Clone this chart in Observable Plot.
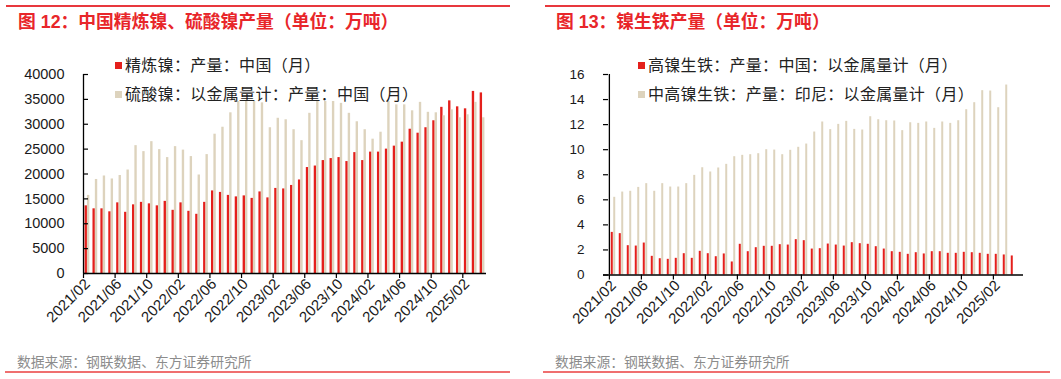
<!DOCTYPE html>
<html><head><meta charset="utf-8">
<script src="https://cdn.jsdelivr.net/npm/d3@7"></script>
<script src="https://cdn.jsdelivr.net/npm/@observablehq/plot@0.6"></script>
<style>
body{margin:0;background:#fff;width:1061px;height:379px;overflow:hidden;position:relative;font-family:"Liberation Sans",Arial,"Noto Sans CJK SC",sans-serif;}
.panel{position:absolute;top:0;}
.rline{position:absolute;height:1.5px;background:#e8383d;}
.bline{position:absolute;height:2px;background:#ef6f6f;}
.title{position:absolute;top:9px;line-height:22px;color:#e8262a;font-weight:bold;font-size:17.8px;font-family:"Noto Sans CJK SC",sans-serif;white-space:nowrap;}
.title .n{font-family:"Liberation Sans",Arial,sans-serif;}
.src{position:absolute;top:353px;line-height:16px;color:#8c8c8c;font-size:13.8px;font-family:"Noto Sans CJK SC",sans-serif;white-space:nowrap;}
.legend{position:absolute;top:50px;height:51px;background:#fff;font-size:16px;color:#222;font-family:"Noto Sans CJK SC",sans-serif;padding:0 6px 0 5px;z-index:2;letter-spacing:0.3px;}
.legend div{white-space:nowrap;height:29px;line-height:29px;}
.sw{display:inline-block;width:7px;height:7px;margin-right:3px;vertical-align:middle;position:relative;top:-1px;}
</style></head><body>
<div class="rline" style="left:6px;width:504px;top:5px"></div>
<div class="rline" style="left:545px;width:505px;top:5px"></div>
<div class="title" style="left:18px">图<span class="n"> 12</span>：中国精炼镍、硫酸镍产量（单位：万吨）</div>
<div class="title" style="left:556px">图<span class="n"> 13</span>：镍生铁产量（单位：万吨）</div>
<div id="c1" class="panel" style="left:0"></div>
<div id="c2" class="panel" style="left:530px"></div>
<div class="legend" style="left:110px">
  <div><span class="sw" style="background:#e4201c"></span>精炼镍：产量：中国（月）</div>
  <div><span class="sw" style="background:#ddd3bd"></span>硫酸镍：以金属量计：产量：中国（月）</div>
</div>
<div class="legend" style="left:633px">
  <div><span class="sw" style="background:#e4201c"></span>高镍生铁：产量：中国：以金属量计（月）</div>
  <div><span class="sw" style="background:#ddd3bd"></span>中高镍生铁：产量：印尼：以金属量计（月）</div>
</div>
<div class="src" style="left:17px">数据来源：钢联数据、东方证券研究所</div>
<div class="src" style="left:555px">数据来源：钢联数据、东方证券研究所</div>
<div class="bline" style="left:5px;width:505px;top:371px"></div>
<div class="bline" style="left:543px;width:507px;top:371px"></div>
<script>
const months = ["2021/02","2021/03","2021/04","2021/05","2021/06","2021/07","2021/08","2021/09","2021/10","2021/11","2021/12",
"2022/01","2022/02","2022/03","2022/04","2022/05","2022/06","2022/07","2022/08","2022/09","2022/10","2022/11","2022/12",
"2023/01","2023/02","2023/03","2023/04","2023/05","2023/06","2023/07","2023/08","2023/09","2023/10","2023/11","2023/12",
"2024/01","2024/02","2024/03","2024/04","2024/05","2024/06","2024/07","2024/08","2024/09","2024/10","2024/11","2024/12",
"2025/01","2025/02","2025/03","2025/04"];
const tickMonths = ["2021/02","2021/06","2021/10","2022/02","2022/06","2022/10","2023/02","2023/06","2023/10","2024/02","2024/06","2024/10","2025/02"];

// 图12
const refinedNickel = [13600,13000,13000,12400,14200,12300,13800,14300,14000,13600,14500,12700,14200,12500,11900,14300,16600,16300,15700,15400,15600,15100,16400,15200,17100,17000,17700,18800,21300,21600,22700,23100,23300,22500,24300,22700,24400,24400,25000,25600,26400,29000,28200,29300,30700,33400,34700,33500,33100,36600,36300];
const nickelSulfate = [15700,18900,19600,19000,19700,20800,25700,24500,26500,24900,23300,25500,24800,23500,19800,23900,28000,29400,32300,34900,36500,36500,34300,29300,31200,30900,28900,26700,32200,36300,36300,35600,34200,32200,30500,28900,27000,28400,36500,33900,33900,32700,34400,32400,32300,31700,32900,31300,31900,34400,31300];
const yTicks1 = [0,5000,10000,15000,20000,25000,30000,35000,40000];

// 图13
const npiChina = [3.40,3.30,2.34,2.31,2.55,1.49,1.30,1.25,1.33,1.70,1.33,1.89,1.70,1.46,1.68,1.04,2.45,1.86,2.18,2.29,2.29,2.42,2.39,2.82,2.74,2.07,2.10,2.47,2.39,2.31,2.58,2.50,2.45,2.26,2.07,1.86,1.81,1.65,1.78,1.68,1.86,1.86,1.73,1.73,1.81,1.78,1.73,1.65,1.65,1.60,1.52];
const npiIndonesia = [6.20,6.62,6.68,6.99,7.29,6.68,7.29,7.02,7.02,7.29,7.95,8.56,8.22,8.54,8.83,9.44,9.55,9.60,9.68,10.00,9.97,9.60,9.95,10.19,10.45,11.41,12.21,11.60,12.02,12.26,11.62,11.57,12.63,12.39,12.31,12.29,11.52,12.15,12.10,12.21,11.70,12.21,12.10,12.31,13.19,13.75,14.71,14.68,13.35,15.16,null];
const yTicks2 = [0,2,4,6,8,10,12,14,16];

const RED = "#e4201c", BEIGE = "#ddd3bd";

function chart({s1, s2, yMax, yTicks, width, height, mL, mR, mT, mB, yFont}) {
  const n = months.length;
  const step = (width - mL - mR) / n;
  const bw = step * 0.3;
  const rows1 = months.map((m, i) => ({m, v: s1[i]})).filter(d => d.v != null);
  const rows2 = months.map((m, i) => ({m, v: s2[i]})).filter(d => d.v != null);
  return Plot.plot({
    width, height, marginLeft: mL, marginRight: mR, marginTop: mT, marginBottom: mB,
    style: {fontFamily: "'Liberation Sans', Arial, sans-serif", fontSize: "14.5px", color: "#1a1a1a", background: "transparent", overflow: "visible"},
    x: {type: "band", domain: months, paddingInner: 0.7, paddingOuter: 0.35, axis: null},
    y: {domain: [0, yMax], axis: null},
    marks: [
      Plot.barY(rows1, {x: "m", y: "v", fill: RED, dx: -bw / 2}),
      Plot.barY(rows2, {x: "m", y: "v", fill: BEIGE, dx: bw / 2}),
      Plot.ruleY([0], {stroke: "#000", strokeWidth: 1.3}),
      Plot.ruleX([months[0]], {dx: -step / 2, stroke: "#000", strokeWidth: 1.3}),
      Plot.axisY({ticks: yTicks, tickSize: 5, dx: 5, tickFormat: () => "", label: null, stroke: "#000", strokeWidth: 1.2}),
      Plot.axisY({ticks: yTicks, tickSize: 0, tickPadding: 19, tickFormat: d => String(d), label: null, fontSize: yFont}),
      Plot.axisX({ticks: tickMonths, tickSize: 5, dx: -step / 2, tickFormat: () => "", label: null, stroke: "#000", strokeWidth: 1.2}),
      Plot.axisX({ticks: tickMonths, tickSize: 0, tickPadding: 8, tickRotate: -45, label: null, fontSize: "15px"})
    ]
  });
}

document.getElementById("c1").appendChild(chart({s1: refinedNickel, s2: nickelSulfate, yMax: 40000, yTicks: yTicks1,
  width: 530, height: 340, mL: 83, mR: 44, mT: 74, mB: 67, yFont: "14.5px"}));
document.getElementById("c2").appendChild(chart({s1: npiChina, s2: npiIndonesia, yMax: 16, yTicks: yTicks2,
  width: 531, height: 340, mL: 73, mR: 38, mT: 74, mB: 65.5, yFont: "13.5px"}));
</script>
</body></html>
